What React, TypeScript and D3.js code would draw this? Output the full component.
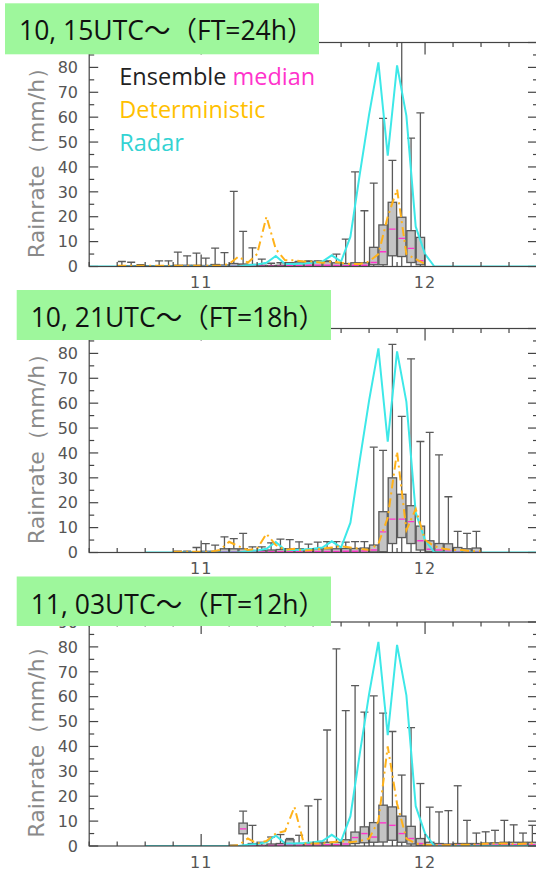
import React from "react";
import * as d3 from "d3";

// hours counted from 10th 12UTC; x axis spans 10 12UTC .. 12 12UTC
const HOURS = d3.range(0, 49);

const TITLES = ["10, 15UTC～（FT=24h）", "10, 21UTC～（FT=18h）", "11, 03UTC～（FT=12h）"];
const DAY_LABELS = [
  { hour: 12, label: "11" },
  { hour: 36, label: "12" },
];

// radar observation, one value per hour (t = 0..48)
const RADAR = [
  0, 0, 0, 0, 0, 0, 0, 0, 0, 0, 0, 0, 0, 0, 0, 0, 0,
  0.5, 0.8, 1.5, 4.2, 1, 1, 1.2, 1.5, 2, 4.5, 2, 12, 37, 61, 82, 44.5, 80.8, 60.5, 16, 5, 0,
  0, 0, 0, 0, 0, 0, 0, 0, 0, 0, 0,
];
const RADAR_FROM = [0, 6, 6];

// deterministic forecast, hourly from its initial hour
const DET_1_FROM = 3;
const DET_1 = [
  0.3, 0.3, 0.3, 0.3, 0.3, 0.3, 0.3, 0.3, 0.3, 0.3, 0.3, 0.3,
  1, 4, 1.5, 5, 20, 7, 2.5, 2.5, 2, 2, 1.5, 2, 1.5, 1, 1, 2, 5, 20, 31, 5, 3, 1,
];
const DET_2_FROM = 9;
const DET_2 = [
  0.3, 0.3, 0.3, 0.3, 0.3,
  1, 4.3, 2.5, 1, 1.5, 7.5, 3, 1, 1.5, 0.8, 1, 1.5, 2, 2.5, 2, 1.5, 1, 3.5, 14, 40.5, 9, 17.5, 5, 2.5, 1.5, 1, 1, 0.5, 0.5,
];
const DET_3_FROM = 15;
const DET_3 = [
  0, 0.3, 3, 1, 2, 5, 6, 15.7, 1, 1, 1, 1.5, 2, 1.5, 2, 3, 10, 40, 17, 3, 1, 0.5,
  0.3, 0.3, 0.5, 0.5, 0.5, 0.8, 1, 1, 1, 0.8, 1, 1,
];

// ensemble box plots, one box per hour (centred on the half hour), min is 0
const BOX_1_FROM = 3;
const BOX_1_MAX = [2, 1.7, 0.7, 0.3, 2.3, 2.3, 5.8, 4.3, 5.4, 3.4, 7.4, 5.6, 30.2, 14.1, 7.5, 3, 1.3, 1.5, 1.5, 2, 2.3, 2.3, 2.3, 5, 11, 38, 22.4, 33.5, 59.5, 42.6, 95, 51.6, 61.7];
const BOX_1_Q3 = [0.3, 0.3, 0.2, 0.1, 0.3, 0.3, 0.5, 0.5, 0.5, 0.4, 0.8, 0.6, 1.2, 1, 0.8, 0.5, 0.4, 0.5, 1.5, 1.8, 2, 2, 2, 1.5, 1.2, 1.5, 1.5, 7.7, 16.7, 25.8, 19.8, 14.4, 11.7];
const BOX_1_MED = [0, 0, 0, 0, 0, 0, 0.1, 0.1, 0.1, 0.1, 0.2, 0.1, 0.2, 0.2, 0.2, 0.1, 0.1, 0.1, 0.3, 0.4, 0.5, 0.5, 0.5, 0.4, 0.3, 0.5, 0.5, 1.6, 5.9, 15, 11.3, 7.3, 2.3];
const BOX_1_Q1 = [0, 0, 0, 0, 0, 0, 0, 0, 0, 0, 0, 0, 0, 0, 0, 0, 0, 0, 0, 0, 0, 0, 0, 0, 0, 0, 0, 0.7, 0.7, 4.3, 4, 1.6, 0.7];

const BOX_2_FROM = 9;
const BOX_2_MAX = [0.5, 0.5, 2, 3.6, 3, 6.3, 5.6, 7.7, 2.3, 2.3, 3.9, 5.4, 5.2, 4.3, 3.4, 4.2, 4.4, 4.4, 4.2, 4.4, 4.4, 42.3, 41, 83.6, 54.7, 77.8, 44.6, 48.3, 39.2, 22.4, 8.5, 7.7, 8.5];
const BOX_2_Q3 = [0.1, 0.1, 0.3, 0.5, 0.5, 1.5, 1.5, 1.5, 0.8, 0.8, 1, 1.2, 1.5, 1.5, 1.2, 1.5, 1.5, 1.5, 1.6, 1.6, 1.8, 3, 16.4, 30, 23.4, 18.8, 10.6, 4.7, 3.6, 3.5, 2, 1.5, 1.8];
const BOX_2_MED = [0, 0, 0, 0.1, 0.1, 0.3, 0.3, 0.3, 0.2, 0.2, 0.3, 0.3, 0.4, 0.4, 0.3, 0.4, 0.4, 0.4, 0.5, 0.5, 0.6, 1, 8.3, 13.4, 13.4, 12.4, 4.7, 1.3, 1, 0.5, 0.3, 0.3, 0.3];
const BOX_2_Q1 = [0, 0, 0, 0, 0, 0, 0, 0, 0, 0, 0, 0, 0, 0, 0, 0, 0, 0, 0, 0, 0, 0.2, 0.3, 3.6, 6, 3.6, 1, 0.3, 0.2, 0, 0, 0, 0];

const BOX_3_FROM = 15;
const BOX_3_MAX = [0.3, 14, 8.3, 1.5, 3.6, 4.6, 3, 4.3, 16.1, 18.7, 46.6, 79.2, 54.4, 64.4, 53.8, 60.3, 53.4, 46, 28.5, 47.6, 25.1, 15.6, 13.7, 14.2, 24.2, 10.3, 5.2, 5.7, 6.3, 10.3, 8.5, 5.2, 8.3];
const BOX_3_Q3 = [0.1, 9.2, 1, 0.3, 0.8, 1, 2.5, 1, 1.2, 1.3, 1.5, 1.5, 2.5, 5.6, 7.7, 9.4, 16.4, 15.7, 12, 7.9, 3, 1.5, 1, 0.8, 1, 1, 1, 1.2, 1.3, 1.5, 1.5, 1.5, 1.5];
const BOX_3_MED = [0, 6.9, 0.3, 0, 0.2, 0.3, 0.5, 0.3, 0.4, 0.4, 0.5, 0.5, 0.8, 3.4, 5, 3.6, 9.3, 8.3, 5, 3, 1, 0.3, 0.3, 0.3, 0.3, 0.3, 0.3, 0.4, 0.4, 0.5, 0.5, 0.5, 0.5];
const BOX_3_Q1 = [0, 4.9, 0, 0, 0, 0, 0, 0, 0, 0, 0, 0, 0, 1, 1.3, 1.5, 1.6, 2.3, 1.5, 0.8, 0.3, 0, 0, 0, 0, 0, 0, 0, 0, 0, 0, 0, 0];

const LEGEND = [
  [{ text: "Ensemble ", color: "#222" }, { text: "median", color: "#ff33cc" }],
  [{ text: "Deterministic", color: "#ffc000" }],
  [{ text: "Radar", color: "#33d3d3" }],
];

const C_RADAR = "#3de8e8";
const C_DET = "#ffb21a";
const C_MED = "#ff33cc";
const C_AXIS = "#444";
const FONT_TEXT = "'Open Sans', 'Noto Sans CJK JP', sans-serif";
const FONT_TICK = "'DejaVu Sans', sans-serif";

const PANELS = [
  { top: 42.5, label: { x: 5, y: 3.3, w: 314, h: 51 }, det: DET_1, detFrom: DET_1_FROM, boxFrom: BOX_1_FROM, max: BOX_1_MAX, q3: BOX_1_Q3, med: BOX_1_MED, q1: BOX_1_Q1, legend: true },
  { top: 328.5, label: { x: 16.7, y: 290, w: 314.3, h: 50 }, det: DET_2, detFrom: DET_2_FROM, boxFrom: BOX_2_FROM, max: BOX_2_MAX, q3: BOX_2_Q3, med: BOX_2_MED, q1: BOX_2_Q1, legend: false },
  { top: 622, label: { x: 16.7, y: 576.5, w: 314.3, h: 49.5 }, det: DET_3, detFrom: DET_3_FROM, boxFrom: BOX_3_FROM, max: BOX_3_MAX, q3: BOX_3_Q3, med: BOX_3_MED, q1: BOX_3_Q1, legend: false },
];

const PLOT_H = 224;
const X0 = 89.2;
const X1 = 537;

function Panel({ idx }: { idx: number }) {
  const p = PANELS[idx];
  const x = d3.scaleLinear().domain([0, 48]).range([X0, X1]);
  const y = d3.scaleLinear().domain([0, 90]).range([p.top + PLOT_H, p.top]);
  const line = d3
    .line<[number, number]>()
    .x((d) => x(d[0]))
    .y((d) => y(d[1]));

  const radarPts: [number, number][] = HOURS.filter((h) => h >= RADAR_FROM[idx]).map((h) => [h, RADAR[h]]);
  const detPts: [number, number][] = p.det.map((v, i) => [p.detFrom + i, v]);
  const clipId = `clip${idx}`;
  const bw = 8.4;
  const cw = 8;
  const y0 = y(0);
  const labelBottom = p.label.y + p.label.h;
  // tick labels fully hidden under the green title box are not drawn
  const yLabels = d3.range(0, 91, 10).filter((v) => y(v) + 6 > labelBottom || v < 90);

  return (
    <g>
      <defs>
        <clipPath id={clipId}>
          <rect x={X0} y={p.top} width={X1 - X0} height={PLOT_H} />
        </clipPath>
      </defs>

      {/* boxes */}
      <g clipPath={`url(#${clipId})`}>
        {p.max.map((mx, i) => {
          const cx = x(p.boxFrom + i + 0.5);
          const yq3 = y(p.q3[i]);
          const yq1 = y(p.q1[i]);
          return (
            <g key={i} stroke="#5a5a5a" strokeWidth={1.3}>
              <line x1={cx} x2={cx} y1={yq3} y2={y(mx)} />
              <line x1={cx - cw / 2} x2={cx + cw / 2} y1={y(mx)} y2={y(mx)} />
              <line x1={cx} x2={cx} y1={yq1} y2={y0} />
              <rect x={cx - bw / 2} y={yq3} width={bw} height={Math.max(0.3, yq1 - yq3)} fill="#c4c4c4" />
              <line x1={cx - bw / 2 + 1} x2={cx + bw / 2 - 1} y1={y(p.med[i])} y2={y(p.med[i])} stroke={C_MED} strokeWidth={1.4} />
            </g>
          );
        })}
        <path d={line(radarPts) || ""} fill="none" stroke={C_RADAR} strokeWidth={2} />
        <path d={line(detPts) || ""} fill="none" stroke={C_DET} strokeWidth={2} strokeDasharray="9,4,2,4" />
      </g>

      {/* frame */}
      <rect x={X0} y={p.top} width={X1 - X0} height={PLOT_H} fill="none" stroke={C_AXIS} strokeWidth={1.2} />

      {/* y ticks */}
      {d3.range(0, 91, 5).map((v) => {
        const major = v % 10 === 0;
        return (
          <g key={v} stroke={C_AXIS} strokeWidth={1.2}>
            <line x1={X0} x2={X0 + (major ? 9 : 5)} y1={y(v)} y2={y(v)} />
            <line x1={X1} x2={X1 - (major ? 9 : 4)} y1={y(v)} y2={y(v)} />
          </g>
        );
      })}
      {yLabels.map((v) => (
        <text key={v} x={78} y={y(v)} dy="0.36em" textAnchor="end" fontFamily={FONT_TICK} fontSize={16} fill="#555">
          {v}
        </text>
      ))}

      {/* x ticks */}
      {d3.range(0, 49, 3).map((h) => {
        const major = h % 24 === 12;
        const len = major ? 12 : 4.5;
        return (
          <g key={h} stroke={C_AXIS} strokeWidth={1.2}>
            <line x1={x(h)} x2={x(h)} y1={y0} y2={y0 - len} />
            <line x1={x(h)} x2={x(h)} y1={p.top} y2={p.top + len} />
          </g>
        );
      })}
      {DAY_LABELS.map((d) => (
        <text key={d.label} x={x(d.hour)} y={y0 + 21.5} textAnchor="middle" fontFamily={FONT_TICK} fontSize={16} fill="#555" letterSpacing={1}>
          {d.label}
        </text>
      ))}

      {/* y title */}
      <text
        transform={`translate(36, ${p.top + PLOT_H / 2 + 3}) rotate(-90)`}
        textAnchor="middle"
        dy="0.35em"
        fontFamily={FONT_TICK}
        fontSize={22}
        fill="#8a8a8a"
      >
        Rainrate（mm/h）
      </text>

      {p.legend &&
        LEGEND.map((row, r) => (
          <text key={r} x={119.3} y={p.top + 42.5 + r * 32.8} fontFamily={FONT_TEXT} fontSize={23.5}>
            {row.map((s, k) => (
              <tspan key={k} fill={s.color}>
                {s.text}
              </tspan>
            ))}
          </text>
        ))}

      {/* title label */}
      <rect x={p.label.x} y={p.label.y} width={p.label.w} height={p.label.h} fill="#9ef79c" />
      <text x={p.label.x + 14} y={p.label.y + 37} fontFamily={FONT_TEXT} fontSize={26.5} fill="#111">
        {TITLES[idx]}
      </text>
    </g>
  );
}

export default function App() {
  return (
    <svg width={536} height={870} style={{ position: "absolute", left: 0, top: 0, background: "#fff" }}>
      {PANELS.map((_, i) => (
        <Panel key={i} idx={i} />
      ))}
    </svg>
  );
}
